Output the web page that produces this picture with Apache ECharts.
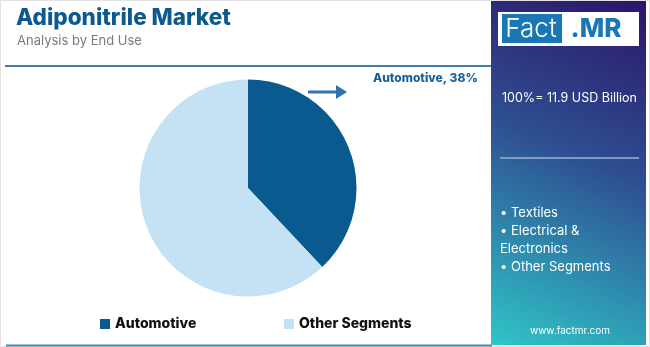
<!DOCTYPE html>
<html>
<head>
<meta charset="utf-8">
<script src="https://cdn.jsdelivr.net/npm/echarts@6/dist/echarts.min.js"></script>
<style>
html,body{margin:0;padding:0;background:#fff;}
#chart{width:650px;height:347px;}
</style>
</head>
<body>
<div id="chart"></div>
<script>
var categories = ["Automotive", "Other Segments"];
var shares = [38, 62];
var colors = ["#0b5a8f", "#c4e2f3"];
var totalText = "100%= 11.9 USD Billion";
var otherSegments = ["• Textiles", "• Electrical &", "Electronics", "• Other Segments"];

var FONT = "Inter, 'Noto Sans', sans-serif";
var chart = echarts.init(document.getElementById('chart'), null, {renderer: 'canvas'});

var pieData = categories.map(function (c, i) {
  return {
    name: c, value: shares[i], itemStyle: {color: colors[i]},
    label: {show: i === 0}
  };
});

var bulletEls = otherSegments.map(function (t, i) {
  return {
    type: 'text', left: 500, top: 207 + i * 17.7, z: 10,
    style: {text: t, fill: '#ffffff', font: '13px ' + FONT}
  };
});

var option = {
  animation: false,
  title: [
    {text: 'Adiponitrile Market', left: 11, top: 2,
     textStyle: {fontFamily: FONT, fontWeight: 800, fontSize: 22.5, color: '#0d5a8f'}},
    {text: 'Analysis by End Use', left: 12, top: 30,
     textStyle: {fontFamily: FONT, fontWeight: 400, fontSize: 13, color: '#7a7a7a'}}
  ],
  legend: [
    {data: [categories[0]], left: 95, top: 312, icon: 'rect', itemWidth: 10, itemHeight: 10, itemGap: 5,
     textStyle: {fontFamily: FONT, fontWeight: 800, fontSize: 14, color: '#111'}},
    {data: [categories[1]], left: 279, top: 312, icon: 'rect', itemWidth: 10, itemHeight: 10, itemGap: 5,
     textStyle: {fontFamily: FONT, fontWeight: 800, fontSize: 14, color: '#111'}}
  ],
  series: [{
    type: 'pie',
    center: [248, 188],
    radius: 108.5,
    startAngle: 90,
    clockwise: true,
    silent: true,
    data: pieData,
    label: {
      show: true, position: 'outside',
      formatter: function (p) { return p.name + ', ' + p.value + '%'; },
      fontFamily: FONT, fontWeight: 800, fontSize: 12, color: '#1b5f96'
    },
    labelLine: {show: false},
    labelLayout: function () {
      return {x: 373, y: 78, align: 'left', verticalAlign: 'middle'};
    }
  }],
  graphic: [
    {type: 'rect', shape: {x: 0.5, y: 0.5, width: 649, height: 346}, z: -10,
     style: {fill: '#fff', stroke: '#e2e2e2', lineWidth: 1}},
    {type: 'line', shape: {x1: 5, y1: 66, x2: 491, y2: 66},
     style: {stroke: '#3b7fb6', lineWidth: 2}},
    {type: 'line', shape: {x1: 6, y1: 345.5, x2: 492, y2: 345.5},
     style: {stroke: '#3c8cb8', lineWidth: 2}},
    // arrow
    {type: 'line', shape: {x1: 308, y1: 92, x2: 338, y2: 92},
     style: {stroke: '#2f72ad', lineWidth: 3}},
    {type: 'polygon', shape: {points: [[336, 85], [347, 92], [336, 99]]},
     style: {fill: '#2f72ad'}},
    // right panel
    {type: 'rect', shape: {x: 491, y: 1, width: 155, height: 344}, z: 1,
     style: {fill: new echarts.graphic.LinearGradient(1, 0, 0, 1, [
       {offset: 0, color: '#2c1568'},
       {offset: 0.45, color: '#2e4f92'},
       {offset: 1, color: '#2fc5c8'}
     ])}},
    {type: 'rect', shape: {x: 498, y: 12, width: 141, height: 34}, z: 5,
     style: {fill: '#ffffff'}},
    {type: 'rect', shape: {x: 502, y: 14, width: 60, height: 29}, z: 6,
     style: {fill: '#1a77b6'}},
    {type: 'text', x: 531, y: 29, z: 7,
     style: {text: 'Fact', fill: '#ffffff', font: '300 26px ' + FONT, align: 'center', verticalAlign: 'middle'}},
    {type: 'text', x: 596, y: 29, z: 7,
     style: {text: '.MR', fill: '#1a77b6', font: '800 26px ' + FONT, align: 'center', verticalAlign: 'middle'}},
    {type: 'text', left: 502, top: 92, z: 10,
     style: {text: totalText, fill: '#ffffff', font: '12.5px ' + FONT}},
    {type: 'line', shape: {x1: 500, y1: 158, x2: 639, y2: 158}, z: 10,
     style: {stroke: '#9fb0d8', lineWidth: 1.5}},
    {type: 'text', x: 570, y: 331, z: 10,
     style: {text: 'www.factmr.com', fill: '#ffffff', font: '10px ' + FONT, align: 'center', verticalAlign: 'middle'}}
  ].concat(bulletEls)
};
chart.setOption(option);
</script>
</body>
</html>
